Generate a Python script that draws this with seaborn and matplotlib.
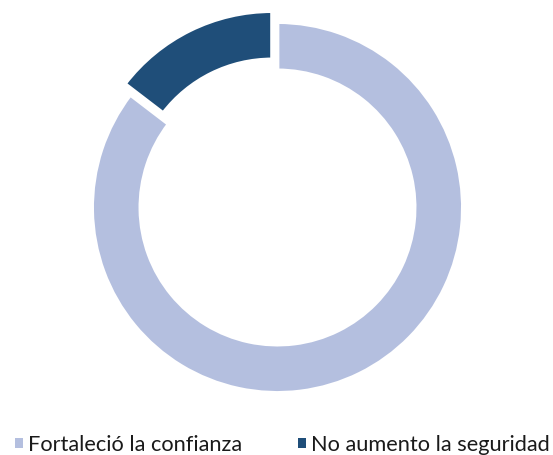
import matplotlib
matplotlib.use("Agg")
import matplotlib.pyplot as plt
from matplotlib.patches import Patch
import seaborn as sns

# Survey answers (percent of respondents)
categories = ["Fortaleció la confianza", "No aumento la seguridad"]
shares = [85.4, 14.6]
colors = ["#B4BFDF", "#1F4E79"]
explode = [0.0, 0.066]

sns.set_theme(style="white")
plt.rcParams["font.family"] = ["Lato", "DejaVu Sans"]

W, H = 553, 455
fig = plt.figure(figsize=(W / 100, H / 100), dpi=100)
ax = fig.add_axes([0, 0, 1, 1])

wedges, _ = ax.pie(
    shares,
    colors=colors,
    explode=explode,
    startangle=90,
    counterclock=False,
    radius=1.0,
    wedgeprops=dict(width=0.2605, edgecolor="white", linewidth=2.7),
)

# ring drawn at 185.4 px per unit, centred at (277.5, 207.5) px from top-left
scale = 185.4
cx, cy = 277.5, 207.5
ax.set_xlim(-cx / scale, (W - cx) / scale)
ax.set_ylim(-(H - cy) / scale, cy / scale)
ax.set_aspect("equal")
ax.axis("off")

# square legend keys in the wedge colours, without the white wedge border
handles = [Patch(facecolor=w.get_facecolor(), edgecolor="none") for w in wedges]
fig.legend(
    handles,
    categories,
    loc="center left",
    bbox_to_anchor=(15 / W, 1 - 445 / H),
    ncol=2,
    frameon=False,
    fontsize=15.7,
    handlelength=0.37,
    handleheight=0.37,
    handletextpad=0.23,
    columnspacing=2.57,
    borderpad=0,
    borderaxespad=0,
    labelcolor="#1a1a1a",
)

fig.savefig("out.png", dpi=100)
